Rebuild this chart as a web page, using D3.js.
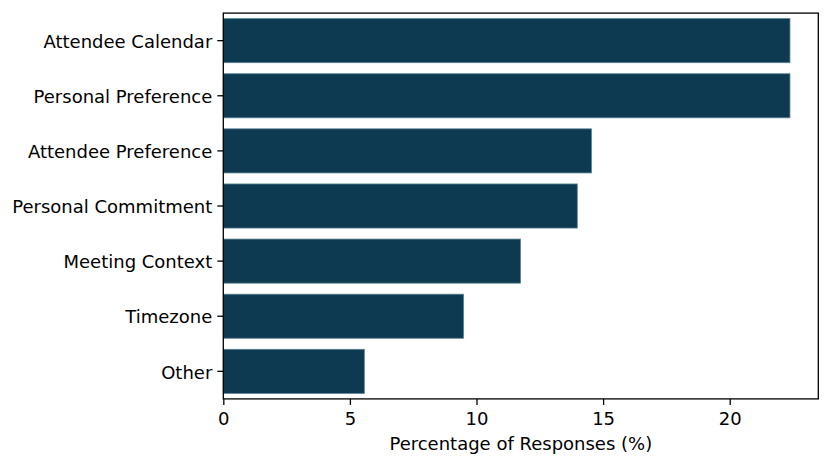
<!DOCTYPE html>
<html>
<head>
<meta charset="utf-8">
<script src="https://cdn.jsdelivr.net/npm/d3@7"></script>
<style>
  body { margin: 0; background: white; }
  svg text { font-family: "DejaVu Sans", sans-serif; }
</style>
</head>
<body>
<div id="chart"></div>
<script>
var categories = ["Attendee Calendar", "Personal Preference", "Attendee Preference", "Personal Commitment", "Meeting Context", "Timezone", "Other"];
var percentages = [22.38, 22.38, 14.54, 13.98, 11.74, 9.49, 5.57];
var xTicks = [0, 5, 10, 15, 20];
var xLabel = "Percentage of Responses (%)";

var data = categories.map((c, i) => ({x: c, y: percentages[i]}));

function barChart(data, fillColor) {
    var W = 831, H = 466;
    var margin = {top: 13.1, right: 12.7, bottom: 67.1, left: 223.3},
        width = W - margin.left - margin.right,
        height = H - margin.top - margin.bottom;
    var fs = "18px";

    var svg = d3.select("#chart").append("svg")
        .attr("width", W)
        .attr("height", H)
        .append("g")
        .attr("transform", `translate(${margin.left},${margin.top})`);

    var xScale = d3.scaleLinear()
        .domain([0, d3.max(data, d => d.y) * 1.05])
        .range([0, width]);

    var yScale = d3.scaleBand()
        .domain(data.map(d => d.x))
        .range([0, height])
        .paddingInner(0.2)
        .paddingOuter(0.1);

    svg.selectAll("rect.bar")
        .data(data)
        .enter().append("rect")
        .attr("class", "bar")
        .attr("y", d => yScale(d.x))
        .attr("height", yScale.bandwidth())
        .attr("x", 0)
        .attr("width", d => xScale(d.y))
        .attr("fill", fillColor)
        .attr("stroke", "#5a8496")
        .attr("stroke-width", 0.8);

    var xAxis = svg.append("g")
        .attr("transform", `translate(0,${height})`)
        .call(d3.axisBottom(xScale).tickValues(xTicks).tickSize(6).tickPadding(7.5).tickSizeOuter(0));

    var yAxis = svg.append("g")
        .call(d3.axisLeft(yScale).tickSize(6).tickPadding(5).tickSizeOuter(0));
    yAxis.selectAll("text").attr("dy", "0.4em");

    [xAxis, yAxis].forEach(a => {
        a.select(".domain").remove();
        a.selectAll("line").attr("stroke", "black").attr("stroke-width", 1.3);
        a.selectAll("text").style("font-size", fs).attr("fill", "black");
    });

    // frame
    svg.append("rect")
        .attr("x", 0)
        .attr("y", 0)
        .attr("width", width)
        .attr("height", height)
        .attr("fill", "none")
        .attr("stroke", "black")
        .attr("stroke-width", 1.3);

    svg.append("text")
        .attr("x", width / 2)
        .attr("y", height + 51)
        .attr("text-anchor", "middle")
        .style("font-size", fs)
        .attr("fill", "black")
        .text(xLabel);
}
barChart(data, "#0d3a50");
</script>
</body>
</html>
